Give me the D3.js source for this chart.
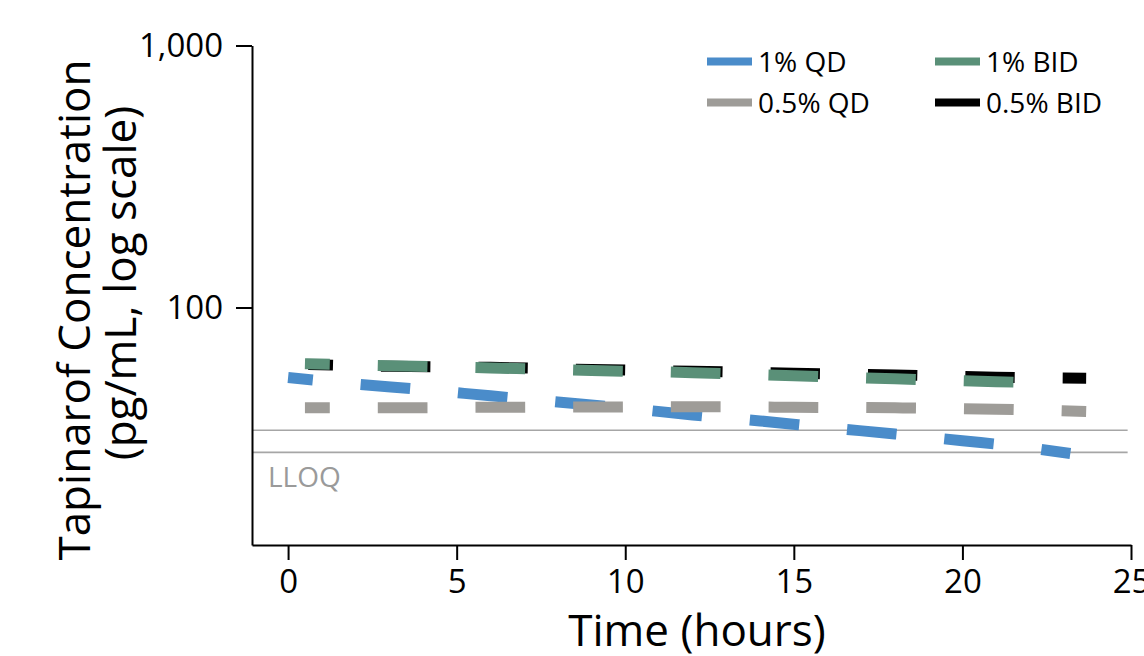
<!DOCTYPE html>
<meta charset="utf-8" />
<style>
    body { margin: 0; background: #fff; }
    text { font-family: 'Open Sans', sans-serif; }
    .axis path, .axis line { stroke: #000; stroke-width: 2px; }
    .axis text { font-size: 33px; fill: #000; }
</style>

<svg width="1144" height="656"></svg>

<script src="https://d3js.org/d3.v7.min.js"></script>
<script>
    // series (time in hours, concentration pg/mL)
    const qd1Times = [0, 2, 4, 6, 8, 10, 12, 14, 16, 18, 20, 22, 23.2];
    const qd1Values = [54.0, 51.0, 48.6, 46.0, 43.6, 41.3, 38.9, 36.9, 34.8, 32.9, 31.0, 29.1, 27.7];

    const bid1Times = [0.5, 3, 6, 9, 12, 15, 18, 21, 22];
    const bid1Values = [61.0, 59.9, 58.8, 57.5, 56.4, 54.9, 53.4, 52.1, 51.7];

    const qd05Times = [0.5, 3, 6, 9, 12, 15, 18, 21, 23.67];
    const qd05Values = [41.4, 41.4, 41.6, 41.7, 41.8, 41.6, 41.4, 40.9, 40.1];

    const bid05Times = [0.6, 3, 6, 9, 12, 15, 18, 21, 23.67];
    const bid05Values = [60.6, 59.6, 59.1, 58.0, 57.1, 56.1, 55.3, 54.2, 53.7];

    const lloqValues = [34.0, 28.0];
    const xTicks = [0, 5, 10, 15, 20, 25];
    const yTicks = [100, 1000];

    const svg = d3.select('svg');

    const x = d3.scaleLinear().domain([-1.07, 25]).range([252, 1131]);
    const y = d3.scaleLog().domain([12.4, 1000]).range([545, 45.5]);

    const series = [
        { name: '0.5% BID', times: bid05Times, values: bid05Values, color: '#000000', dash: '49.4,48' },
        { name: '1% QD', times: qd1Times, values: qd1Values, color: '#4a8cca', dash: '49.7,48' },
        { name: '1% BID', times: bid1Times, values: bid1Values, color: '#5a9078', dash: '49.7,48' },
        { name: '0.5% QD', times: qd05Times, values: qd05Values, color: '#9e9c98', dash: '49.7,48' },
    ];

    // LLOQ reference lines
    svg.append('g')
        .selectAll('line')
        .data(lloqValues)
        .enter()
        .append('line')
        .attr('x1', x(-1.07))
        .attr('x2', x(24.9))
        .attr('y1', d => y(d))
        .attr('y2', d => y(d))
        .attr('stroke', '#a6a6a6')
        .attr('stroke-width', 1.6);

    svg.append('text')
        .attr('x', 268)
        .attr('y', 487)
        .attr('fill', '#9a9a9a')
        .style('font-size', '28px')
        .text('LLOQ');

    const line = d3.line()
        .x(d => x(d[0]))
        .y(d => y(d[1]))
        .curve(d3.curveMonotoneX);

    svg.append('g')
        .selectAll('path')
        .data(series)
        .enter()
        .append('path')
        .attr('d', s => line(d3.zip(s.times, s.values)))
        .attr('fill', 'none')
        .attr('stroke', s => s.color)
        .attr('stroke-width', 11)
        .attr('stroke-linecap', 'butt')
        .attr('stroke-dasharray', s => s.dash)
        .attr('stroke-dashoffset', s => parseFloat(s.dash) / 2);

    // axes
    svg.append('g')
        .attr('class', 'axis')
        .attr('transform', 'translate(252,0)')
        .call(d3.axisLeft(y).tickValues(yTicks).tickFormat(d3.format(',')).tickSize(16).tickSizeOuter(0).tickPadding(13));

    svg.append('g')
        .attr('class', 'axis')
        .attr('transform', 'translate(0,545)')
        .call(d3.axisBottom(x).tickValues(xTicks).tickSize(15).tickSizeOuter(0).tickPadding(10));

    svg.selectAll('.axis .domain').attr('stroke-width', 2.5);

    // titles
    svg.append('text')
        .attr('x', 697)
        .attr('y', 646)
        .attr('text-anchor', 'middle')
        .style('font-size', '44px')
        .text('Time (hours)');

    svg.append('text')
        .attr('transform', 'translate(90,310) rotate(-90)')
        .attr('text-anchor', 'middle')
        .style('font-size', '44px')
        .text('Tapinarof Concentration');

    svg.append('text')
        .attr('transform', 'translate(136,283) rotate(-90)')
        .attr('text-anchor', 'middle')
        .style('font-size', '44px')
        .text('(pg/mL, log scale)');

    // legend
    const legendOrder = ['1% QD', '1% BID', '0.5% QD', '0.5% BID'];
    const legendPos = [[707, 61.5], [935, 61.5], [707, 102.5], [935, 102.5]];
    const legend = svg.append('g');
    legendOrder.forEach((name, i) => {
        const s = series.find(d => d.name === name);
        const [lx, ly] = legendPos[i];
        legend.append('line')
            .attr('x1', lx).attr('x2', lx + 45)
            .attr('y1', ly).attr('y2', ly)
            .attr('stroke', s.color)
            .attr('stroke-width', 8);
        legend.append('text')
            .attr('x', lx + 51)
            .attr('y', ly + 10)
            .style('font-size', '28px')
            .text(name);
    });
</script>
